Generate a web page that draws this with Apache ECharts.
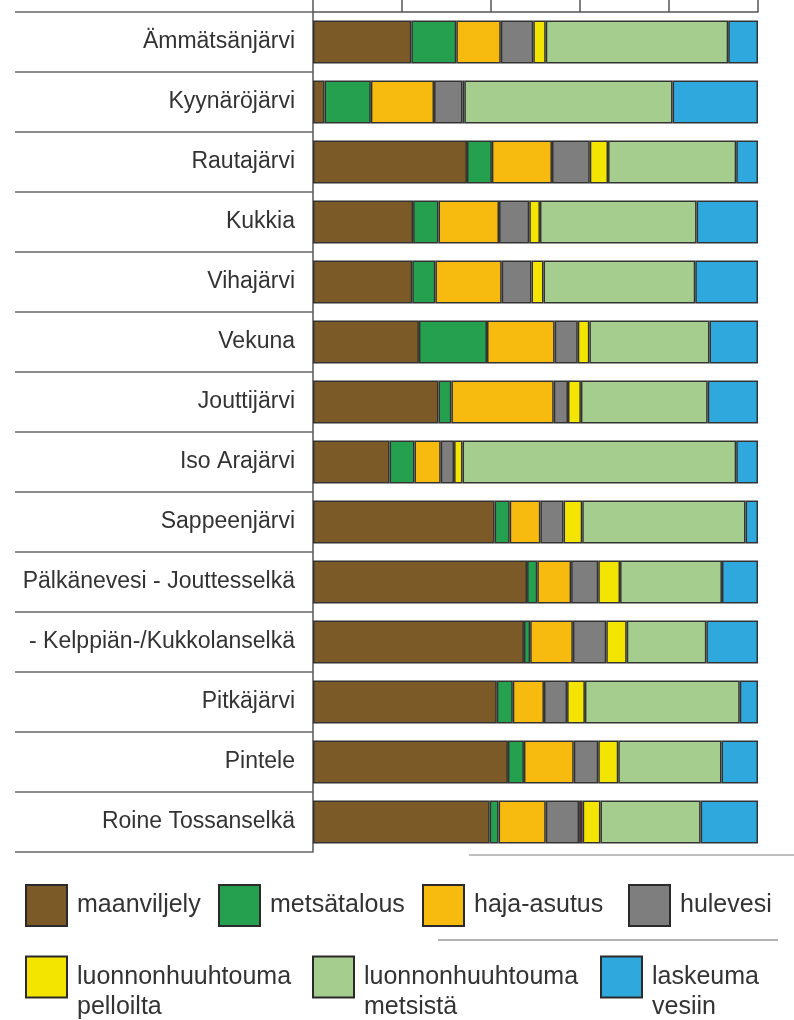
<!DOCTYPE html>
<html>
<head>
<meta charset="utf-8">
<script src="https://cdn.jsdelivr.net/npm/echarts@6/dist/echarts.min.js"></script>
<style>
html,body{margin:0;padding:0;background:#ffffff;}
#chart{width:794px;height:1020px;}
</style>
</head>
<body>
<div id="chart"></div>
<script>
// Categories (top to bottom)
const categories = [
  'Ämmätsänjärvi', 'Kyynäröjärvi', 'Rautajärvi', 'Kukkia', 'Vihajärvi', 'Vekuna',
  'Jouttijärvi', 'Iso Arajärvi', 'Sappeenjärvi', 'Pälkänevesi - Jouttesselkä',
  '- Kelppiän-/Kukkolanselkä', 'Pitkäjärvi', 'Pintele', 'Roine Tossanselkä'
];
// Shares (%) per source
const maanviljely   = [22.1, 2.6, 34.6, 22.5, 22.3, 23.8, 28.2, 17.2, 40.8, 48.1, 47.4, 41.3, 43.8, 39.7];
const metsatalous   = [10.1, 10.4, 5.6, 5.7, 5.2, 15.3, 2.9, 5.6, 3.4, 2.3, 1.4, 3.6, 3.6, 2.0];
const hajaAsutus    = [10.0, 14.2, 13.5, 13.6, 14.9, 15.2, 23.0, 5.9, 6.9, 7.6, 9.6, 7.0, 11.2, 10.6];
const hulevesi      = [7.3, 6.4, 8.5, 6.8, 6.7, 5.2, 3.2, 3.0, 5.2, 6.1, 7.5, 5.2, 5.5, 7.5];
const muu           = ['-', '-', '-', '-', '-', '-', '-', '-', '-', '-', '-', '-', '-', 0.8];
const luonnPelloilta= [2.8, 0.4, 4.1, 2.4, 2.7, 2.6, 2.9, 1.9, 4.2, 4.9, 4.6, 4.0, 4.5, 4.0];
const luonnMetsista = [41.0, 46.8, 28.8, 35.2, 34.1, 27.0, 28.5, 61.5, 36.7, 22.9, 17.9, 34.8, 23.2, 22.5];
const laskeuma      = [6.7, 19.2, 4.9, 13.8, 14.1, 10.9, 11.3, 4.9, 2.8, 8.1, 11.6, 4.1, 8.2, 12.9];
const xTicks = [0, 20, 40, 60, 80, 100];

const seriesDefs = [
  {name: 'maanviljely', data: maanviljely, color: '#7b5a27'},
  {name: 'metsätalous', data: metsatalous, color: '#24a04f'},
  {name: 'haja-asutus', data: hajaAsutus, color: '#f7bb0f'},
  {name: 'hulevesi', data: hulevesi, color: '#7e7e7e'},
  {name: 'muu', data: muu, color: '#9a1c1c'},
  {name: 'luonnonhuuhtouma pelloilta', data: luonnPelloilta, color: '#f3e500'},
  {name: 'luonnonhuuhtouma metsistä', data: luonnMetsista, color: '#a5cd8d'},
  {name: 'laskeuma vesiin', data: laskeuma, color: '#2fa8dd'}
];

const legendPos = {
  'maanviljely': [25, 884],
  'metsätalous': [218, 884],
  'haja-asutus': [422, 884],
  'hulevesi': [628, 884],
  'luonnonhuuhtouma pelloilta': [25, 932],
  'luonnonhuuhtouma metsistä': [312, 932],
  'laskeuma vesiin': [600, 932]
};

const FONT = "'Liberation Sans', Arial, Helvetica, sans-serif";

const legends = Object.keys(legendPos).map(function (name) {
  const twoLine = name.indexOf(' ') > 0;
  return {
    data: [name],
    left: legendPos[name][0],
    top: legendPos[name][1],
    padding: 0,
    icon: 'rect',
    itemWidth: 41,
    itemHeight: 41,
    selectedMode: false,
    itemStyle: {borderColor: '#2a2a2a', borderWidth: 2},
    formatter: function (n) { return twoLine ? '\n' + n.replace(' ', '\n') : n; },
    textStyle: {
      fontFamily: FONT,
      fontSize: 25,
      color: '#333333',
      lineHeight: 30,
      padding: [0, 0, 0, 5]
    }
  };
});

const chart = echarts.init(document.getElementById('chart'), null, {renderer: 'canvas'});
chart.setOption({
  backgroundColor: '#ffffff',
  animation: false,
  grid: {left: 313, right: 36, top: 12, bottom: 168, containLabel: false},
  legend: legends,
  xAxis: {
    type: 'value',
    position: 'top',
    min: xTicks[0],
    max: xTicks[xTicks.length - 1],
    interval: xTicks[1] - xTicks[0],
    axisLine: {show: true, lineStyle: {color: '#555555', width: 1.5}},
    axisTick: {show: true, length: 12, lineStyle: {color: '#555555', width: 1.5}},
    axisLabel: {show: false},
    splitLine: {show: false}
  },
  yAxis: {
    type: 'category',
    inverse: true,
    data: categories,
    axisLine: {show: true, lineStyle: {color: '#555555', width: 1.5}},
    axisTick: {show: true, length: 298, lineStyle: {color: '#666666', width: 1.5}},
    axisLabel: {fontFamily: FONT, fontSize: 23, color: '#333333', margin: 18}
  },
  series: seriesDefs.map(function (s) {
    return {
      name: s.name,
      type: 'bar',
      stack: 'total',
      barWidth: 43,
      data: s.data,
      itemStyle: {color: s.color, borderColor: '#333333', borderWidth: 1.5},
      emphasis: {disabled: true}
    };
  }),
  graphic: [
    {type: 'line', shape: {x1: 469, y1: 855, x2: 794, y2: 855}, style: {stroke: '#aaaaaa', lineWidth: 1.5}},
    {type: 'line', shape: {x1: 438, y1: 940, x2: 778, y2: 940}, style: {stroke: '#9a9a9a', lineWidth: 1.5}}
  ]
});
</script>
</body>
</html>
